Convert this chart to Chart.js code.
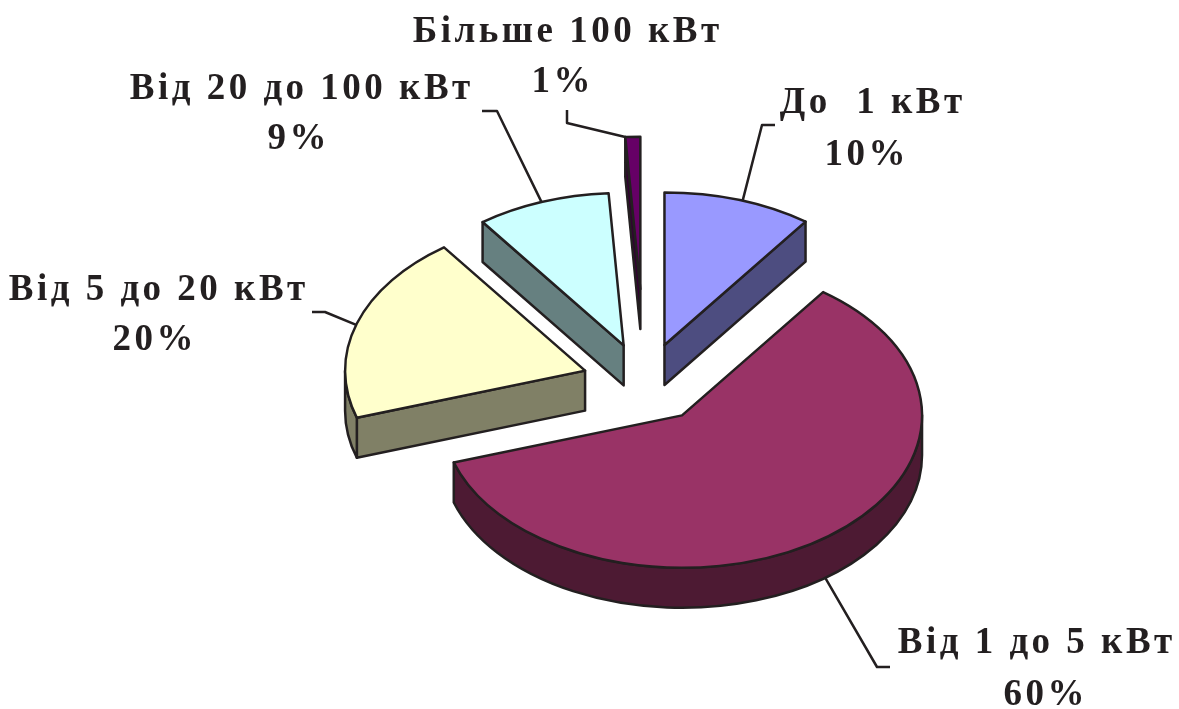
<!DOCTYPE html>
<html>
<head>
<meta charset="utf-8">
<script src="https://cdn.jsdelivr.net/npm/chart.js@4.4.1/dist/chart.umd.min.js"></script>
<style>
  html, body { margin: 0; padding: 0; background: #ffffff; }
  #wrap { width: 1179px; height: 709px; position: relative; }
</style>
</head>
<body>
<div id="wrap"><canvas id="c"></canvas></div>
<script>
// ---- data ----
const categories = ['До  1 кВт', 'Від 1 до 5 кВт', 'Від 5 до 20 кВт', 'Від 20 до 100 кВт', 'Більше 100 кВт'];
const shares = [10, 60, 20, 9, 1];
const percentLabels = ['10%', '60%', '20%', '9%', '1%'];

// ---- styles ----
const topColors = ['#9999FF', '#993366', '#FFFFCC', '#CCFFFF', '#660066'];
const sideColors = ['#4D4D80', '#4D1A33', '#808066', '#668080', '#330033'];
const explode = [63, 63, 63, 63, 148];
const TILT = 0.635;
const DEPTH = 40;
const INK = '#231F20';

// label layout: name (center x, baseline), percent (center x, baseline),
// elbow points and anchor angle (degrees clockwise from 12 o'clock), anchor on bottom rim?
const labelLayout = [
  { nx: 871, ny: 113, px: 865, py: 165, elbow: [[775, 125], [762, 125]], anchorDeg: 19, bottom: false },
  { nx: 1035, ny: 653, px: 1044, py: 705, elbow: [[890, 667], [877, 667]], anchorDeg: 143.4, bottom: true },
  { nx: 157, ny: 300, px: 153, py: 350, elbow: [[312, 312], [325, 312]], anchorDeg: 287.5, bottom: false },
  { nx: 300, ny: 99, px: 297, py: 149, elbow: [[482, 111], [497, 111]], anchorDeg: 340, bottom: false },
  { nx: 566, ny: 42, px: 561, py: 92, elbow: [[567, 110], [567, 123]], anchorDeg: 356.4, bottom: false }
];

function drawText(ctx, txt, cx, by) {
  const ls = 3.5;
  ctx.letterSpacing = ls + 'px';
  const w = ctx.measureText(txt).width;
  ctx.textAlign = 'left';
  ctx.fillText(txt, cx - (w - ls) / 2, by);
}

const pie3d = {
  id: 'pie3d',
  beforeDatasetsDraw(chart) {
    const ctx = chart.ctx;
    const meta = chart.getDatasetMeta(0);
    const items = meta.data.map((el, i) => {
      const p = el.getProps(['x', 'y', 'startAngle', 'endAngle', 'outerRadius'], true);
      const mid = (p.startAngle + p.endAngle) / 2;
      const d = explode[i];
      return {
        el, i, x: p.x, y: p.y, a1: p.startAngle, a2: p.endAngle, R: p.outerRadius,
        cx: p.x + d * Math.cos(mid), cy: p.y + d * Math.sin(mid) * TILT
      };
    });
    const pt = (it, a, dz) => [it.cx + it.R * Math.cos(a), it.cy + it.R * TILT * Math.sin(a) + dz];

    ctx.save();
    ctx.lineJoin = 'round';
    ctx.lineCap = 'round';
    ctx.strokeStyle = INK;
    ctx.lineWidth = 2.5;

    items.slice().sort((p, q) => p.cy - q.cy).forEach(it => {
      const side = sideColors[it.i];
      // radial cut faces
      [[it.a1, Math.cos(it.a1) < -1e-6], [it.a2, Math.cos(it.a2) > 1e-6]].forEach(([a, vis]) => {
        if (!vis) return;
        const p0 = pt(it, a, 0), p1 = pt(it, a, DEPTH);
        ctx.beginPath();
        ctx.moveTo(it.cx, it.cy);
        ctx.lineTo(p0[0], p0[1]);
        ctx.lineTo(p1[0], p1[1]);
        ctx.lineTo(it.cx, it.cy + DEPTH);
        ctx.closePath();
        ctx.fillStyle = side;
        ctx.fill();
        ctx.stroke();
      });
      // outer wall (front half only)
      const s = Math.max(it.a1, 0), e = Math.min(it.a2, Math.PI);
      if (e > s) {
        ctx.beginPath();
        ctx.ellipse(it.cx, it.cy, it.R, it.R * TILT, 0, s, e, false);
        const b = pt(it, e, DEPTH);
        ctx.lineTo(b[0], b[1]);
        ctx.ellipse(it.cx, it.cy + DEPTH, it.R, it.R * TILT, 0, e, s, true);
        ctx.closePath();
        ctx.fillStyle = side;
        ctx.fill();
        ctx.stroke();
      }
      // top face: the library's arc element, projected
      ctx.save();
      ctx.translate(it.cx, it.cy);
      ctx.scale(1, TILT);
      ctx.translate(-it.x, -it.y);
      it.el.draw(ctx);
      ctx.restore();
      ctx.beginPath();
      ctx.moveTo(it.cx, it.cy);
      ctx.ellipse(it.cx, it.cy, it.R, it.R * TILT, 0, it.a1, it.a2, false);
      ctx.closePath();
      ctx.stroke();
    });

    // leader lines and labels
    ctx.lineWidth = 2.5;
    ctx.lineCap = 'butt';
    items.forEach(it => {
      const L = labelLayout[it.i];
      const a = (L.anchorDeg - 90) * Math.PI / 180;
      const anc = pt(it, a, L.bottom ? DEPTH : 0);
      ctx.beginPath();
      ctx.moveTo(L.elbow[0][0], L.elbow[0][1]);
      ctx.lineTo(L.elbow[1][0], L.elbow[1][1]);
      ctx.lineTo(anc[0], anc[1]);
      ctx.stroke();
    });
    ctx.fillStyle = INK;
    ctx.font = 'bold 37px "Liberation Serif", "Times New Roman", serif';
    ctx.textBaseline = 'alphabetic';
    items.forEach(it => {
      const L = labelLayout[it.i];
      drawText(ctx, categories[it.i], L.nx, L.ny);
      drawText(ctx, percentLabels[it.i], L.px, L.py);
    });
    ctx.restore();
    return false;
  }
};

new Chart(document.getElementById('c'), {
  type: 'pie',
  data: {
    labels: categories,
    datasets: [{
      data: shares,
      backgroundColor: topColors,
      borderWidth: 0,
      offset: 0
    }]
  },
  options: {
    responsive: true,
    maintainAspectRatio: false,
    animation: false,
    events: [],
    radius: 240,
    layout: { padding: { left: 111, right: 0, top: 57, bottom: 0 } },
    plugins: { legend: { display: false }, tooltip: { enabled: false }, title: { display: false } }
  },
  plugins: [pie3d]
});
</script>
</body>
</html>
